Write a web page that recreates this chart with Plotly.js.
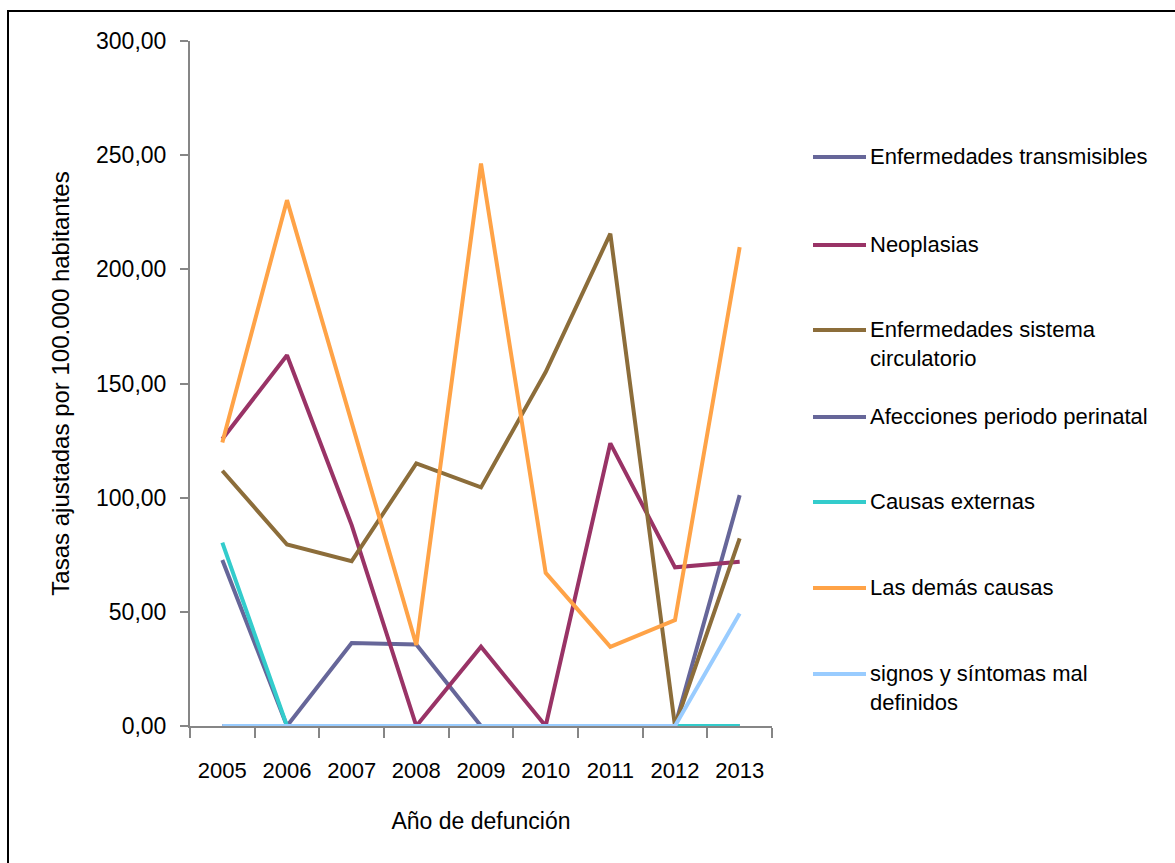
<!DOCTYPE html>
<html>
<head>
<meta charset="utf-8">
<script src="https://cdn.plot.ly/plotly-3.0.1.min.js"></script>
<style>
  html, body { margin: 0; padding: 0; background: #ffffff; overflow: hidden; }
  #frame {
    position: absolute; left: 7px; top: 10px; width: 1300px; height: 1000px;
    border-left: 2px solid #000; border-top: 2px solid #000;
  }
  #chart { position: absolute; left: 0; top: 0; width: 1175px; height: 863px; }
</style>
</head>
<body>
<div id="frame"></div>
<div id="chart"></div>
<script>
// Tasas ajustadas de mortalidad por grandes causas, 2005-2013
const years = ['2005', '2006', '2007', '2008', '2009', '2010', '2011', '2012', '2013'];

const seriesNames = [
  'Enfermedades transmisibles',
  'Neoplasias',
  'Enfermedades sistema<br>circulatorio',
  'Afecciones periodo perinatal',
  'Causas externas',
  'Las demás causas',
  'signos y síntomas mal<br>definidos'
];

const transmisibles = [72.7, 0, 36.3, 35.7, 0, 0, 0, 0, 101.1];
const neoplasias    = [125.7, 162.4, 88.0, 0, 34.7, 0, 123.8, 69.5, 71.9];
const circulatorio  = [111.8, 79.5, 72.2, 115.0, 104.5, 155.0, 215.6, 0, 82.2];
const perinatal     = [0, 0, 0, 0, 0, 0, 0, 0, 0];
const externas      = [80.3, 0, 0, 0, 0, 0, 0, 0, 0];
const demasCausas   = [124.2, 230.3, 133.0, 35.5, 246.3, 67.1, 34.7, 46.4, 209.7];
const signos        = [0, 0, 0, 0, 0, 0, 0, 0, 49.3];

const seriesValues = [transmisibles, neoplasias, circulatorio, perinatal, externas, demasCausas, signos];
const seriesColors = ['#666699', '#993366', '#8c6d3a', '#666699', '#33cccc', '#ffa347', '#99ccff'];

const tickVals = [0, 50, 100, 150, 200, 250, 300];

const sans = '"Liberation Sans", Arial, sans-serif';

// plot area in pixels
const M = { l: 190, r: 403, t: 41, b: 137 };
const W = 1175, H = 863;
const PW = W - M.l - M.r, PH = H - M.t - M.b;
const px2x = px => (px - M.l) / PW;
const py2y = py => (H - M.b - py) / PH;

const traces = seriesValues.map((vals, i) => ({
  type: 'scatter',
  mode: 'lines',
  x: years,
  y: vals,
  name: seriesNames[i].replace('<br>', ' '),
  line: { color: seriesColors[i], width: 4 },
  showlegend: false,
  hoverinfo: 'x+y+name'
}));

// legend: key line and label per series
const legendRows = [157, 245, 330, 417, 502, 588, 674];
const shapes = [];
const annotations = [];
seriesNames.forEach((name, i) => {
  const yc = legendRows[i];
  shapes.push({
    type: 'line', xref: 'paper', yref: 'paper',
    x0: px2x(813), x1: px2x(866), y0: py2y(yc), y1: py2y(yc),
    line: { color: seriesColors[i], width: 4 }
  });
  annotations.push({
    xref: 'paper', yref: 'paper',
    x: px2x(868), y: py2y(yc - 15),
    xanchor: 'left', yanchor: 'top', align: 'left',
    showarrow: false,
    text: name,
    font: { family: sans, size: 22, color: '#000' }
  });
});

const layout = {
  width: W, height: H,
  margin: M,
  paper_bgcolor: 'rgba(0,0,0,0)',
  plot_bgcolor: 'rgba(0,0,0,0)',
  separators: ',.',
  showlegend: false,
  xaxis: {
    type: 'category',
    range: [-0.5, 8.5],
    tickson: 'boundaries',
    ticks: 'outside', ticklen: 10, tickcolor: '#868686', tickwidth: 2,
    showline: true, linecolor: '#868686', linewidth: 2,
    showgrid: false, zeroline: false,
    tickfont: { family: sans, size: 22, color: '#000' },
    ticklabelstandoff: 24,
    title: { text: 'Año de defunción', font: { family: sans, size: 23, color: '#000' }, standoff: 30 }
  },
  yaxis: {
    range: [0, 300],
    tickvals: tickVals,
    tickformat: '.2f',
    ticks: 'outside', ticklen: 8, tickcolor: '#868686', tickwidth: 2,
    showline: true, linecolor: '#868686', linewidth: 2,
    showgrid: false, zeroline: false,
    tickfont: { family: sans, size: 23, color: '#000' },
    ticklabelstandoff: 9,
    title: { text: 'Tasas ajustadas por 100.000 habitantes', font: { family: sans, size: 24, color: '#000' }, standoff: 20 }
  },
  shapes: shapes,
  annotations: annotations
};

Plotly.newPlot('chart', traces, layout, { displayModeBar: false, staticPlot: true });
</script>
</body>
</html>
